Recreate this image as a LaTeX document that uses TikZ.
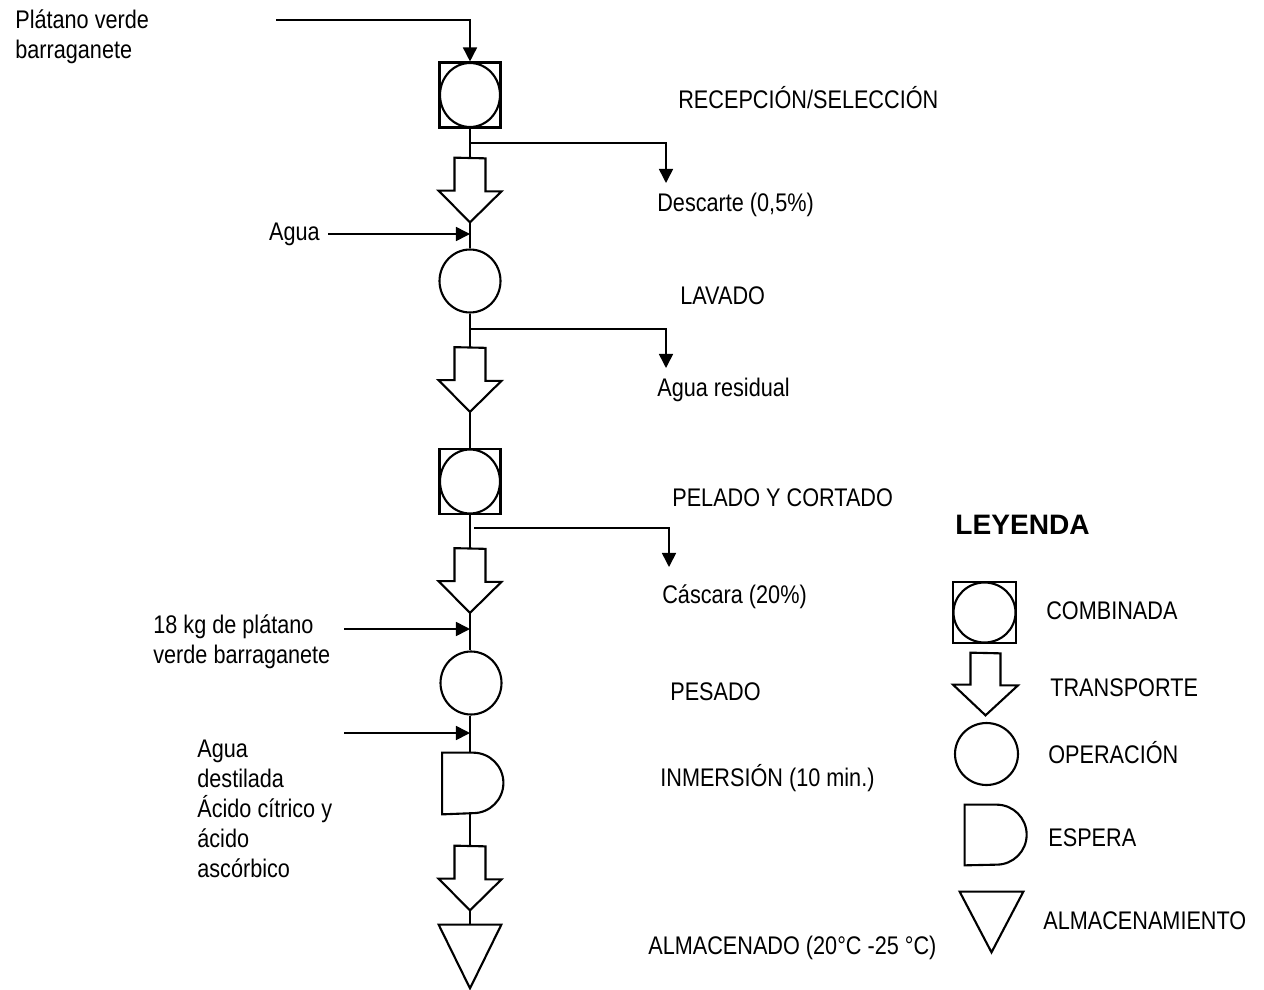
\documentclass[tikz,border=0pt]{standalone}
\usepackage{fontspec}
\setmainfont{Liberation Sans}
\newfontfamily\narrowfont[FakeStretch=0.85]{Liberation Sans}
\usetikzlibrary{arrows.meta,shapes.geometric}
\newcommand\drawtransp[1]{%
  \draw[shp] (#1.north) ++(-15.5,0) -- ++(0,33) -- ++(-16,0) -- (#1.south)
     -- ++(31.5,-31) -- ++(-16,0) -- ++(0,-33) -- cycle;}
\newcommand\drawespera[1]{%
  \draw[shp] (#1.north west) -- ++(31,0) arc[start angle=90,end angle=-90,radius=0.605cm]
     -- (#1.south west) -- cycle;}
\newcommand\drawalmac[1]{%
  \draw[shp] (#1.north west) -- (#1.north east) -- (#1.south) -- cycle;}
\begin{document}
\begin{tikzpicture}[x=0.02cm,y=-0.02cm,
  shp/.style={line width=1.2pt, line join=miter},
  conn/.style={line width=1pt},
  arr/.style={line width=0.9pt,-{Triangle[length=8pt,width=8pt]}},
  box/.style={draw=none, inner sep=0pt, minimum width=#1},
  lbl/.style={inner sep=0pt, anchor=west, font=\narrowfont\fontsize{14.5pt}{17pt}\selectfont, text height=0.72em, text depth=0pt},
  mlbl/.style={inner sep=0pt, anchor=west, align=left, font=\narrowfont\fontsize{14.5pt}{17pt}\selectfont},
  combsq/.style={draw, shp, rectangle, inner sep=0pt, minimum width=1.22cm, minimum height=1.3cm},
  combci/.style={draw, shp, ellipse, inner sep=0pt, minimum width=1.2cm, minimum height=1.28cm},
  oper/.style={draw, shp, ellipse, inner sep=0pt, minimum width=1.22cm, minimum height=1.26cm},
  transp/.style={draw=none, inner sep=0pt, minimum width=1.26cm, minimum height=1.28cm},
  esp/.style={draw=none, inner sep=0pt, minimum width=1.22cm, minimum height=1.22cm},
  alm/.style={draw=none, inner sep=0pt, minimum width=1.24cm, minimum height=1.26cm}
]
\fill[white] (0,0) rectangle (1264,990);
\useasboundingbox (0,0) rectangle (1264,990);

% ---- main column shapes
\node[combsq] (c1) at (470,95) {};
\node[combci] (c1c) at (c1.center) {};
\node[transp] (t1) at (470,190) {};
\drawtransp{t1}
\node[oper] (o1) at (470,281) {};
\node[transp] (t2) at (470,379.5) {};
\drawtransp{t2}
\node[combsq] (c2) at (470,481.5) {};
\node[combci] (c2c) at (c2.center) {};
\node[transp] (t3) at (470,580.5) {};
\drawtransp{t3}
\node[oper] (o2) at (471,683) {};
\node[esp] (e1) at (473,783.5) {};
\drawespera{e1}
\node[transp] (t4) at (470,878) {};
\drawtransp{t4}
\node[alm] (a1) at (470,956.5) {};
\drawalmac{a1}

% ---- vertical connectors
\draw[conn] (c1.south) -- (t1.north);
\draw[conn] (t1.south) -- (o1.north);
\draw[conn] (o1.south) -- (t2.north);
\draw[conn] (t2.south) -- (c2.north);
\draw[conn] (c2.south) -- (t3.north);
\draw[conn] (t3.south) -- (t3.south |- o2.north);
\draw[conn] (t3.south |- o2.south) -- (t3.south |- e1.north);
\draw[conn] (t3.south |- e1.south) -- (t4.north);
\draw[conn] (t4.south) -- (a1.north);

% ---- texts
\node[mlbl] (tin) at (15,36.5) {Plátano verde\\barraganete};
\node[lbl] (l1) at (678,102) {RECEPCIÓN/SELECCIÓN};
\node[lbl] (d1) at (657,205) {Descarte (0,5\%)};
\node[lbl, anchor=east] (agua) at (320,234) {Agua};
\node[lbl] (l2) at (680,298) {LAVADO};
\node[lbl] (d2) at (657,390) {Agua residual};
\node[lbl] (l3) at (672,500) {PELADO Y CORTADO};
\node[lbl] (d3) at (662,597) {Cáscara (20\%)};
\node[mlbl] (kg) at (153,641.5) {18 kg de plátano\\verde barraganete};
\node[lbl] (l4) at (670,694) {PESADO};
\node[mlbl] (dest) at (197,809) {Agua\\destilada\\Ácido cítrico y\\ácido\\ascórbico};
\node[lbl] (l5) at (660,780) {INMERSIÓN (10 min.)};
\node[lbl] (l6) at (648,948) {ALMACENADO (20°C -25 °C)};

% ---- input / output arrows
\coordinate (in0) at (276,20);
\draw[arr] (in0) -| (c1.north);
\coordinate (b1) at (470,143);
\coordinate (d1t) at (666,183);
\draw[arr] (b1) -| (d1t);
\draw[arr] (agua.east) ++(8,0) coordinate (ag0) -- (ag0 -| o1.north);
\coordinate (b2) at (470,329);
\coordinate (d2t) at (666,368);
\draw[arr] (b2) -| (d2t);
\coordinate (b3) at (474,528);
\coordinate (d3t) at (669,567);
\draw[arr] (b3) -| (d3t);
\coordinate (k0) at (344,629);
\draw[arr] (k0) -- (k0 -| t3.south);
\coordinate (w0) at (344,733);
\draw[arr] (w0) -- (w0 -| t3.south);

% ---- legend
\node[inner sep=0pt, anchor=west, font=\bfseries\fontsize{16pt}{19pt}\selectfont, text height=0.72em, text depth=0pt] (ley) at (955,528) {LEYENDA};
\node[combsq, minimum width=1.26cm, minimum height=1.22cm] (lc) at (984.5,612.5) {};
\node[combci, minimum width=1.24cm, minimum height=1.2cm] (lcc) at (lc.center) {};
\node[lbl] (lct) at (1046,613) {COMBINADA};
\node[transp, minimum width=1.3cm, minimum height=1.24cm] (lt) at (985.5,684) {};
\draw[shp] (lt.north) ++(-15,0) -- ++(0,32) -- ++(-17.5,0) -- (lt.south)
     -- ++(32.5,-30) -- ++(-17.5,0) -- ++(0,-32) -- cycle;
\node[lbl] (ltt) at (1050,690) {TRANSPORTE};
\node[oper, minimum width=1.26cm, minimum height=1.24cm] (lo) at (986.5,754) {};
\node[lbl] (lot) at (1048,757) {OPERACIÓN};
\node[esp, minimum width=1.24cm, minimum height=1.2cm] (le) at (996,835) {};
\draw[shp] (le.north west) -- ++(32,0) arc[start angle=90,end angle=-90,radius=0.6cm]
     -- (le.south west) -- cycle;
\node[lbl] (let) at (1048,840) {ESPERA};
\node[alm, minimum width=1.26cm, minimum height=1.2cm] (la) at (991.5,922) {};
\drawalmac{la}
\node[lbl] (lat) at (1043,923) {ALMACENAMIENTO};
\end{tikzpicture}
\end{document}
